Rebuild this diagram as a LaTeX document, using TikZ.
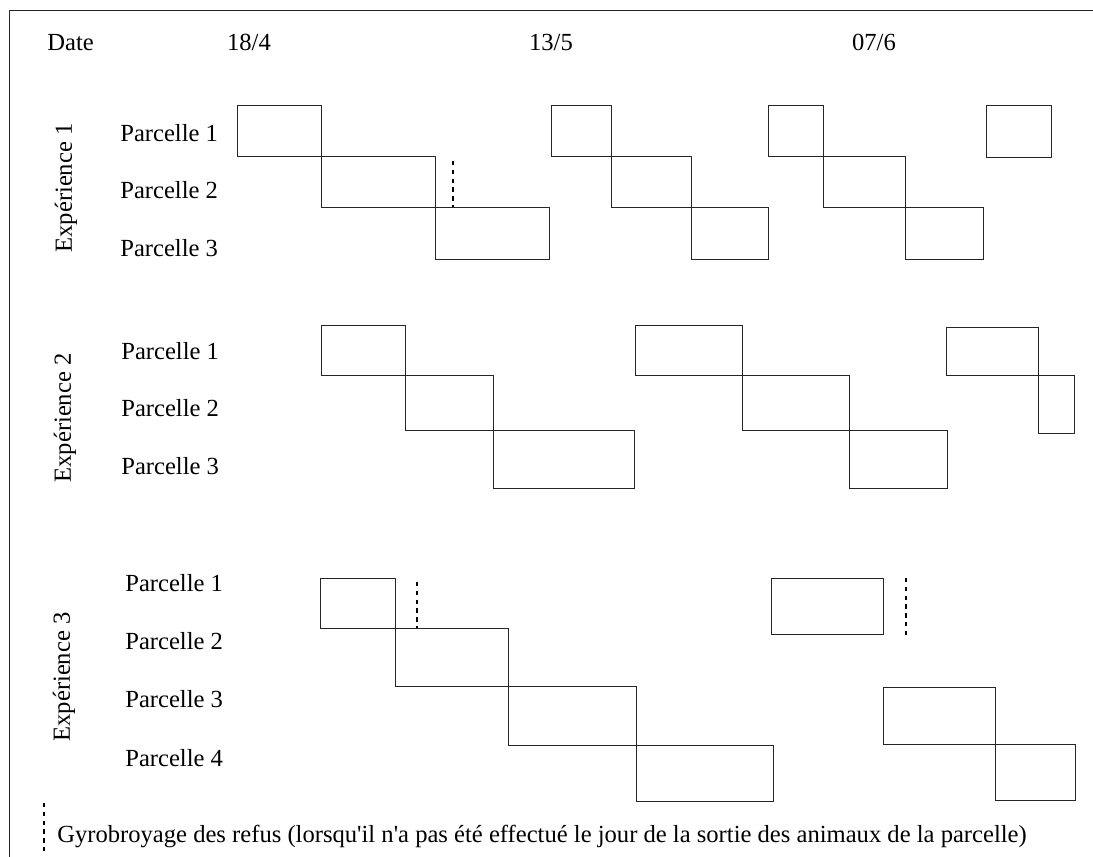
\documentclass[tikz,border=0pt]{standalone}
\usepackage{fontspec}
\setmainfont{Liberation Serif}
\usepackage{tikz}
\usetikzlibrary{positioning}
\tikzstyle{slot} = [black!85, line width=0.55pt]
\tikzstyle{gyro} = [black, line width=0.8pt, dash pattern=on 2.5pt off 2.5pt]
\tikzstyle{lbl} = [inner sep=0pt, anchor=base west]

\begin{document}
\begin{tikzpicture}[x=0.02cm, y=-0.02cm, font=\fontsize{14}{16}\selectfont]
    \useasboundingbox (0,0) rectangle (1093,857);
    % frame
    \draw [slot] (9,857) -- (9,10) -- (1093,10);
    % dates
    \node (date) [lbl] at (47,51) {Date};
    \node (d1) [lbl, anchor=base] at (249,51) {18/4};
    \node (d2) [lbl, anchor=base] at (551,51) {13/5};
    \node (d3) [lbl, anchor=base] at (874,51) {07/6};
    % experience 1
    \node (x1) [rotate=90] at (66,188) {Expérience 1};
    \node (x1p1) [lbl] at (120,142) {Parcelle 1};
    \node (x1p2) [lbl] at (120,199) {Parcelle 2};
    \node (x1p3) [lbl] at (120,257) {Parcelle 3};
    \draw [slot] (237,105) rectangle (321,156);
    \draw [slot] (321,156) rectangle (435,207);
    \draw [slot] (435,207) rectangle (549,259);
    \draw [slot] (551,105) rectangle (611,156);
    \draw [slot] (611,156) rectangle (691,207);
    \draw [slot] (691,207) rectangle (768,259);
    \draw [slot] (768,105) rectangle (823,156);
    \draw [slot] (823,156) rectangle (905,207);
    \draw [slot] (905,207) rectangle (983,259);
    \draw [slot] (986,105) rectangle (1051,157);
    \draw [gyro] (453,161) -- (453,207);
    % experience 2
    \node (x2) [rotate=90] at (65,418) {Expérience 2};
    \node (x2p1) [lbl] at (121,360) {Parcelle 1};
    \node (x2p2) [lbl] at (121,417) {Parcelle 2};
    \node (x2p3) [lbl] at (121,475) {Parcelle 3};
    \draw [slot] (321,325) rectangle (405,375);
    \draw [slot] (405,375) rectangle (493,430);
    \draw [slot] (493,430) rectangle (634,488);
    \draw [slot] (635,325) rectangle (742,375);
    \draw [slot] (742,375) rectangle (849,430);
    \draw [slot] (849,430) rectangle (947,488);
    \draw [slot] (946,327) rectangle (1038,375);
    \draw [slot] (1038,375) rectangle (1074,433);
    % experience 3
    \node (x3) [rotate=90] at (64,677) {Expérience 3};
    \node (x3p1) [lbl] at (125,592) {Parcelle 1};
    \node (x3p2) [lbl] at (125,650) {Parcelle 2};
    \node (x3p3) [lbl] at (125,708) {Parcelle 3};
    \node (x3p4) [lbl] at (125,767) {Parcelle 4};
    \draw [slot] (320,578) rectangle (395,628);
    \draw [slot] (395,628) rectangle (508,686);
    \draw [slot] (508,686) rectangle (636,745);
    \draw [slot] (636,745) rectangle (773,801);
    \draw [slot] (771,578) rectangle (883,634);
    \draw [slot] (883,687) rectangle (995,744);
    \draw [slot] (995,744) rectangle (1075,800);
    \draw [gyro] (417,582) -- (417,628);
    \draw [gyro] (906,578) -- (906,637);
    % legend
    \draw [gyro] (44,803) -- (44,853);
    \node (leg) [lbl] at (57,843) {Gyrobroyage des refus (lorsqu\textquotesingle il n\textquotesingle a pas été effectué le jour de la sortie des animaux de la parcelle)};
\end{tikzpicture}
\end{document}
